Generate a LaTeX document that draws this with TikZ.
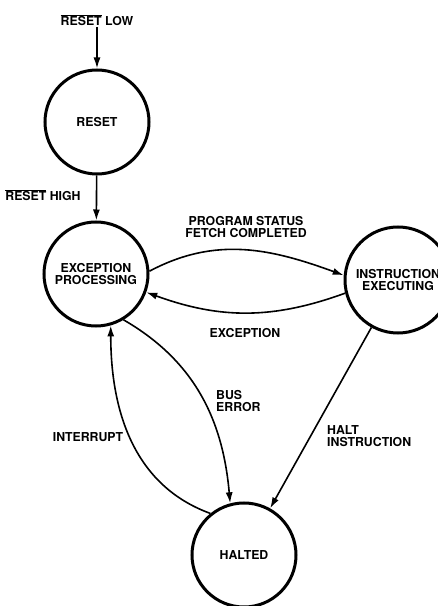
\documentclass[tikz,border=0pt]{standalone}
\usepackage{fontspec}
\setmainfont{TeX Gyre Heros}
\usetikzlibrary{arrows.meta}
\newcommand\activelow[1]{$\overline{\hbox{#1}}$}
\begin{document}
\begin{tikzpicture}[x=1pt, y=1pt,
  state/.style={draw, circle, line width=3pt, minimum size=104pt, inner sep=0pt, align=center,
    font=\fontsize{12.3}{12}\selectfont\bfseries},
  lab/.style={font=\fontsize{12.3}{12}\selectfont\bfseries, align=center, inner sep=1pt},
  edge/.style={line width=1.6pt, -{Latex[length=11pt, width=7pt]}}
]
\useasboundingbox (0,0) rectangle (438,606);
\node[state] (reset) at (97,484) {RESET};
\node[state] (exc) at (96,332) {EXCEPTION\\PROCESSING};
\node[state, minimum size=106pt] (instr) at (398,326) {INSTRUCTION\\EXECUTING};
\node[state] (halt) at (244,51) {HALTED};

\node[lab] (low) at (97,586) {\activelow{RESET} LOW};
\node[lab] (high) at (43,411) {\activelow{RESET} HIGH};
\node[lab] (fetch) at (246,379) {PROGRAM STATUS\\FETCH COMPLETED};
\node[lab] (except) at (245,273) {EXCEPTION};
\node[lab, anchor=west, align=left] (bus) at (215,205) {BUS\\ERROR};
\node[lab] (intr) at (88,169) {INTERRUPT};
\node[lab, anchor=west, align=left] (haltins) at (326,170) {HALT\\INSTRUCTION};

\draw[edge] (low) -- (reset);
\draw[edge] (reset) -- (exc);
\draw[edge] (exc.3) to[out=28, in=160] (instr.175);
\draw[edge] (instr.194) to[out=200, in=-20] (exc.-20);
\draw[edge] (exc.-59) to[out=-30, in=95] (halt.105);
\draw[edge] (halt.129) to[out=160, in=-90] (exc.-74);
\draw[edge] (instr) -- (halt);
\end{tikzpicture}
\end{document}
